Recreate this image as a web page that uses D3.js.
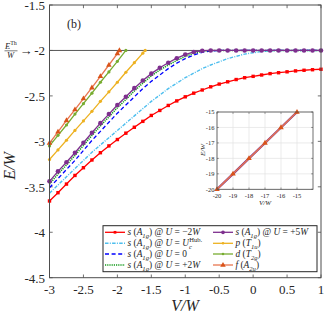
<!DOCTYPE html>
<html>
<head>
<meta charset="utf-8">
<script src="https://cdn.jsdelivr.net/npm/d3@7"></script>
<style>
  body { margin: 0; background: #fff; }
  svg { display: block; }
  text { font-family: "Liberation Serif", "DejaVu Serif", serif; fill: #262626; }
</style>
</head>
<body>
<div id="chart"></div>
<script>
// values
const vGrid = [-3,-2.875,-2.75,-2.625,-2.5,-2.375,-2.25,-2.125,-2,-1.875,-1.75,-1.625,-1.5,-1.375,-1.25,-1.125,-1,
  -0.875,-0.75,-0.625,-0.5,-0.375,-0.25,-0.125,0,0.125,0.25,0.375,0.5,0.625,0.75,0.875,1];

const sRed = [-3.656,-3.565,-3.47,-3.375,-3.29,-3.205,-3.125,-3.05,-2.98,-2.91,-2.845,-2.78,-2.715,-2.66,-2.605,-2.555,-2.51,
  -2.47,-2.435,-2.40,-2.37,-2.345,-2.32,-2.30,-2.285,-2.27,-2.255,-2.245,-2.235,-2.225,-2.218,-2.212,-2.207];
const sCyan = [-3.57,-3.48,-3.39,-3.30,-3.21,-3.12,-3.04,-2.96,-2.88,-2.80,-2.72,-2.64,-2.56,-2.49,-2.42,-2.36,-2.30,
  -2.25,-2.20,-2.16,-2.125,-2.09,-2.065,-2.04,-2.025,-2.012,-2.005,-2,-2,-2,-2,-2,-2];
const sBlue = [-3.51,-3.41,-3.31,-3.21,-3.10,-2.99,-2.89,-2.79,-2.69,-2.60,-2.51,-2.42,-2.34,-2.27,-2.20,-2.14,-2.09,
  -2.05,-2.02,-2.005,-2,-2,-2,-2,-2,-2,-2,-2,-2,-2,-2,-2,-2];
const sGreen = [-3.47,-3.36,-3.26,-3.155,-3.045,-2.935,-2.83,-2.73,-2.63,-2.54,-2.445,-2.36,-2.28,-2.215,-2.16,-2.11,-2.065,
  -2.03,-2.008,-2,-2,-2,-2,-2,-2,-2,-2,-2,-2,-2,-2,-2,-2];
const sPurple = [-3.44,-3.33,-3.23,-3.125,-3.015,-2.905,-2.80,-2.70,-2.60,-2.51,-2.415,-2.33,-2.255,-2.19,-2.135,-2.085,-2.045,
  -2.017,-2.003,-2,-2,-2,-2,-2,-2,-2,-2,-2,-2,-2,-2,-2,-2];

const pV = [-3,-2.875,-2.75,-2.625,-2.5,-2.375,-2.25,-2.125,-2,-1.875,-1.75,-1.625,-1.59];
const pE = [-3.20,-3.094,-2.988,-2.88,-2.775,-2.67,-2.56,-2.455,-2.35,-2.24,-2.135,-2.03,-2.0];
const dV = [-3,-2.875,-2.75,-2.625,-2.5,-2.375,-2.25,-2.125,-2,-1.875];
const dE = [-3.05,-2.934,-2.82,-2.70,-2.585,-2.47,-2.35,-2.236,-2.12,-2.0];
const fV = [-3,-2.875,-2.75,-2.625,-2.5,-2.375,-2.25,-2.125,-2,-1.97];
const fE = [-3.02,-2.895,-2.77,-2.65,-2.53,-2.41,-2.285,-2.16,-2.035,-2.0];

const threshold = -2;
const xTicks = [-3,-2.5,-2,-1.5,-1,-0.5,0,0.5,1];
const yTicks = [-1.5,-2,-2.5,-3,-3.5,-4,-4.5];

const insetTicks = [-20,-19,-18,-17,-16,-15];
const insetV = [-20,-19,-18,-17,-16,-15];
const insetE = [-20,-19,-18,-17,-16,-15];

// --------------------------------------------------------------
const w = 325, h = 317;
const svg = d3.select("#chart").append("svg").attr("width", w).attr("height", h);

const x = d3.scaleLinear().domain([-3, 1]).range([49.5, 321]);
const y = d3.scaleLinear().domain([-4.5, -1.5]).range([277.7, 5]);

// rich text helper: segments [text, kind, dx]
function rich(t, segs, fs) {
  let off = 0;
  segs.forEach(([s, k, dx]) => {
    const target = k === "sub" ? 0.3 * fs : k === "sup" ? -0.42 * fs : 0;
    const ts = t.append("tspan").text(s).attr("dy", target - off);
    off = target;
    if (k === "i" || k === "sub" || k === "sup") ts.attr("font-style", k === "sup" ? "normal" : "italic");
    if (k === "sub" || k === "sup") ts.attr("font-size", fs * 0.7);
    if (dx) ts.attr("dx", dx);
  });
}

// ticks (inward, all four sides)
const axisCol = "#4d4d4d";
const tk = svg.append("g").attr("stroke", axisCol).attr("stroke-width", 0.8);
xTicks.forEach(v => {
  tk.append("line").attr("x1", x(v)).attr("x2", x(v)).attr("y1", 277.7).attr("y2", 274.5);
  tk.append("line").attr("x1", x(v)).attr("x2", x(v)).attr("y1", 5).attr("y2", 8.2);
});
yTicks.forEach(v => {
  tk.append("line").attr("x1", 49.5).attr("x2", 52.7).attr("y1", y(v)).attr("y2", y(v));
  tk.append("line").attr("x1", 321).attr("x2", 317.8).attr("y1", y(v)).attr("y2", y(v));
});

// tick labels
svg.append("g").selectAll("text").data(xTicks).join("text")
  .attr("x", d => x(d)).attr("y", 294).attr("text-anchor", "middle")
  .attr("font-size", 13).text(d => d);
svg.append("g").selectAll("text").data(yTicks).join("text")
  .attr("x", 45).attr("y", d => y(d) + 4.8).attr("text-anchor", "end")
  .attr("font-size", 13).text(d => d);

// threshold line
svg.append("line").attr("x1", x(-3)).attr("x2", x(1)).attr("y1", y(threshold)).attr("y2", y(threshold))
  .attr("stroke", "#555").attr("stroke-width", 1);

const line = d3.line().x(d => x(d[0])).y(d => y(d[1]));
const zip = (a, b) => a.map((v, i) => [v, b[i]]);

const series = [
  { pts: zip(vGrid, sRed), color: "#ff0000", width: 1.3, dash: null, marker: "square", mcol: "#ff0000", msize: 3.4 },
  { pts: zip(vGrid, sCyan), color: "#4dbeee", width: 1.4, dash: "3.5,1.3,1,1.3", marker: null },
  { pts: zip(vGrid, sBlue), color: "#0000ff", width: 1.3, dash: "4,2.6", marker: null },
  { pts: zip(vGrid, sGreen), color: "#139a1a", width: 1.6, dash: "1.2,1", marker: null },
  { pts: zip(vGrid, sPurple), color: "#7e2f8e", width: 1.3, dash: null, marker: "circle", mcol: "#7e2f8e", msize: 2.3 },
  { pts: zip(pV, pE), color: "#edb120", width: 1.3, dash: null, marker: "circle", mcol: "#edb120", msize: 1.6 },
  { pts: zip(dV, dE), color: "#77ac30", width: 1.3, dash: null, marker: "circle", mcol: "#77ac30", msize: 1.6 },
  { pts: zip(fV, fE), color: "#e8764f", width: 1.3, dash: null, marker: "triangle", mcol: "#d95319", msize: 5 }
];

function drawMarker(g, type, cx, cy, col, s) {
  if (type === "square") {
    g.append("rect").attr("x", cx - s / 2).attr("y", cy - s / 2).attr("width", s).attr("height", s).attr("fill", col);
  } else if (type === "circle") {
    g.append("circle").attr("cx", cx).attr("cy", cy).attr("r", s).attr("fill", col);
  } else if (type === "triangle") {
    const r = s * 0.62;
    g.append("path").attr("d", `M${cx},${cy - r}L${cx + r * 0.9},${cy + r * 0.55}L${cx - r * 0.9},${cy + r * 0.55}Z`)
      .attr("fill", col);
  }
}

const plot = svg.append("g");
series.forEach(s => {
  plot.append("path").attr("d", line(s.pts)).attr("fill", "none").attr("stroke", s.color)
    .attr("stroke-width", s.width).attr("stroke-dasharray", s.dash);
  if (s.marker) {
    const mg = plot.append("g");
    s.pts.forEach(p => drawMarker(mg, s.marker, x(p[0]), y(p[1]), s.mcol, s.msize));
  }
});

// axes box
svg.append("rect").attr("x", 49.5).attr("y", 5).attr("width", 321 - 49.5).attr("height", 277.7 - 5)
  .attr("fill", "none").attr("stroke", axisCol).attr("stroke-width", 1);

// panel label
svg.append("text").attr("x", 67).attr("y", 28).attr("font-size", 12).text("(b)");

// E^Th / W -> annotation
const ann = svg.append("g");
const num = ann.append("text").attr("x", 5).attr("y", 48.5).attr("font-size", 8.5);
rich(num, [["E", "i"], ["Th", "sup"]], 8.5);
ann.append("line").attr("x1", 4.5).attr("x2", 17.5).attr("y1", 50.8).attr("y2", 50.8).attr("stroke", "#262626").attr("stroke-width", 0.6);
ann.append("text").attr("x", 7).attr("y", 58).attr("font-size", 8.5).attr("font-style", "italic").text("W");
ann.append("text").attr("x", 19.5).attr("y", 55).attr("font-size", 13).text("→");

// axis titles
svg.append("text").attr("transform", "translate(15,166) rotate(-90)").attr("text-anchor", "middle")
  .attr("font-size", 16).attr("font-style", "italic").text("E/W");
svg.append("text").attr("x", 185).attr("y", 311).attr("text-anchor", "middle")
  .attr("font-size", 16).attr("font-style", "italic").text("V/W");

// inset
const ix = d3.scaleLinear().domain([-20, -14]).range([217, 313]);
const iy = d3.scaleLinear().domain([-20, -15]).range([189.3, 112]);
const ins = svg.append("g");
ins.append("rect").attr("x", 217).attr("y", 112).attr("width", 96).attr("height", 77.3).attr("fill", "#fff");
insetTicks.forEach(v => {
  ins.append("line").attr("x1", ix(v)).attr("x2", ix(v)).attr("y1", 112).attr("y2", 189.3).attr("stroke", "#e3e3e3").attr("stroke-width", 0.7);
  ins.append("line").attr("x1", 217).attr("x2", 313).attr("y1", iy(v)).attr("y2", iy(v)).attr("stroke", "#e3e3e3").attr("stroke-width", 0.7);
  ins.append("line").attr("x1", ix(v)).attr("x2", ix(v)).attr("y1", 189.3).attr("y2", 187.5).attr("stroke", axisCol).attr("stroke-width", 0.6);
  ins.append("line").attr("x1", ix(v)).attr("x2", ix(v)).attr("y1", 112).attr("y2", 113.8).attr("stroke", axisCol).attr("stroke-width", 0.6);
  ins.append("line").attr("x1", 217).attr("x2", 218.8).attr("y1", iy(v)).attr("y2", iy(v)).attr("stroke", axisCol).attr("stroke-width", 0.6);
  ins.append("line").attr("x1", 313).attr("x2", 311.2).attr("y1", iy(v)).attr("y2", iy(v)).attr("stroke", axisCol).attr("stroke-width", 0.6);
});
const iline = d3.line().x(d => ix(d[0])).y(d => iy(d[1]));
const ipts = zip(insetV, insetE);
ins.append("path").attr("d", iline(ipts)).attr("fill", "none").attr("stroke", "#7e2f8e").attr("stroke-width", 2.2);
ins.append("path").attr("d", iline(ipts)).attr("fill", "none").attr("stroke", "#e8764f").attr("stroke-width", 1.4);
const img = ins.append("g");
ipts.forEach(p => drawMarker(img, "triangle", ix(p[0]), iy(p[1]), "#d95319", 5));
ins.append("rect").attr("x", 217).attr("y", 112).attr("width", 96).attr("height", 77.3)
  .attr("fill", "none").attr("stroke", axisCol).attr("stroke-width", 0.8);
ins.append("g").selectAll("text").data(insetTicks).join("text")
  .attr("x", d => ix(d)).attr("y", 197.5).attr("text-anchor", "middle").attr("font-size", 6.5).text(d => d);
ins.append("g").selectAll("text").data(insetTicks).join("text")
  .attr("x", 214.5).attr("y", d => iy(d) + 2.3).attr("text-anchor", "end").attr("font-size", 6.5).text(d => d);
ins.append("text").attr("x", 265).attr("y", 205).attr("text-anchor", "middle").attr("font-size", 7)
  .attr("font-style", "italic").text("V/W");
ins.append("text").attr("transform", "translate(205,150) rotate(-90)").attr("text-anchor", "middle")
  .attr("font-size", 7).attr("font-style", "italic").text("E/W");

// legend
const legendLabels = [
  [["s", "i"], [" (", "n"], ["A", "i"], ["1g", "sub"], [") @ ", "n"], ["U", "i"], [" = −2", "n"], ["W", "i"]],
  [["s", "i"], [" (", "n"], ["A", "i"], ["1g", "sub"], [") @ ", "n"], ["U", "i"], [" = ", "n"], ["U", "i"], ["c", "sub"], ["Hub.", "sup", -2.6]],
  [["s", "i"], [" (", "n"], ["A", "i"], ["1g", "sub"], [") @ ", "n"], ["U", "i"], [" = 0", "n"]],
  [["s", "i"], [" (", "n"], ["A", "i"], ["1g", "sub"], [") @ ", "n"], ["U", "i"], [" = +2", "n"], ["W", "i"]],
  [["s", "i"], [" (", "n"], ["A", "i"], ["1g", "sub"], [") @ ", "n"], ["U", "i"], [" = +5", "n"], ["W", "i"]],
  [["p", "i"], [" (", "n"], ["T", "i"], ["1u", "sub"], [")", "n"]],
  [["d", "i"], [" (", "n"], ["T", "i"], ["2g", "sub"], [")", "n"]],
  [["f", "i"], [" (", "n"], ["A", "i"], ["2u", "sub"], [")", "n"]]
];
const legendOrder = [0, 1, 2, 3, 4, 5, 6, 7];
const leg = svg.append("g");
leg.append("rect").attr("x", 103).attr("y", 225.7).attr("width", 214).attr("height", 46)
  .attr("fill", "#fff").attr("stroke", "#262626").attr("stroke-width", 1);
const rowY = [232.3, 243.3, 254, 265];
legendOrder.forEach((si, k) => {
  const col = k < 4 ? 0 : 1, row = k % 4;
  const x0 = col === 0 ? 105 : 213, yy = rowY[row];
  const s = series[si];
  leg.append("line").attr("x1", x0).attr("x2", x0 + 20).attr("y1", yy).attr("y2", yy)
    .attr("stroke", s.color).attr("stroke-width", s.width).attr("stroke-dasharray", s.dash);
  if (s.marker) drawMarker(leg, s.marker, x0 + 10, yy, s.mcol, s.marker === "triangle" ? 5 : s.msize * 0.8);
  const t = leg.append("text").attr("x", x0 + 22.5).attr("y", yy + 3).attr("font-size", 9.4);
  rich(t, legendLabels[k], 9.4);
});
</script>
</body>
</html>
